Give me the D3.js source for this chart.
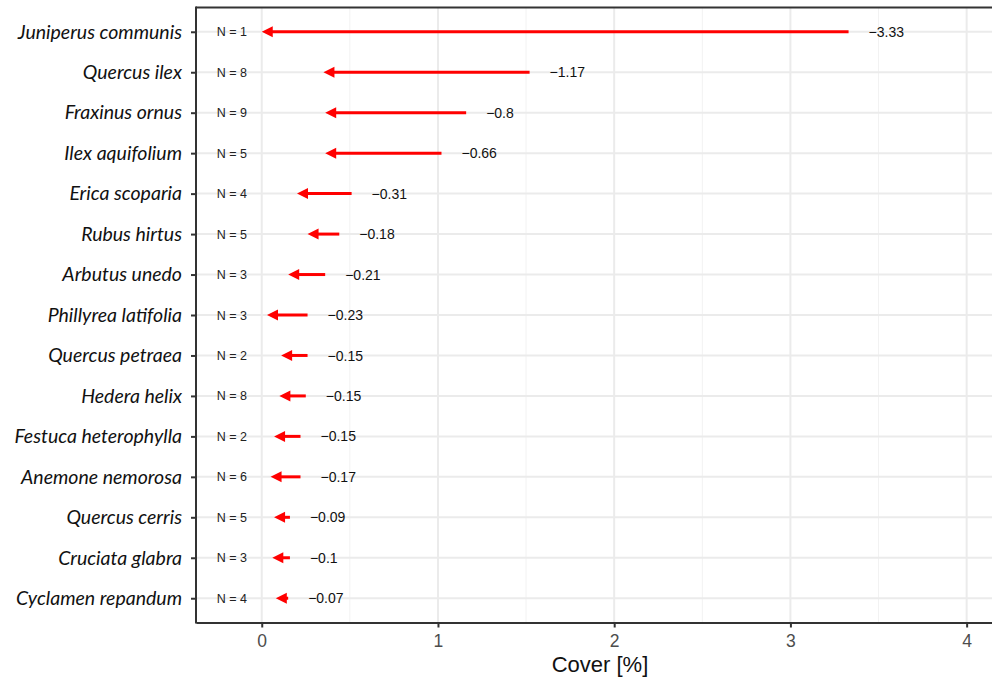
<!DOCTYPE html>
<html>
<head>
<meta charset="utf-8">
<script src="https://cdn.jsdelivr.net/npm/d3@7"></script>
<style>
  body { margin: 0; background: #fff; }
  svg { display: block; }
</style>
</head>
<body>
<svg></svg>
<script>
const width = 992, height = 681;

// Species, top to bottom
const species = ["Juniperus communis", "Quercus ilex", "Fraxinus ornus", "Ilex aquifolium",
  "Erica scoparia", "Rubus hirtus", "Arbutus unedo", "Phillyrea latifolia", "Quercus petraea",
  "Hedera helix", "Festuca heterophylla", "Anemone nemorosa", "Quercus cerris",
  "Cruciata glabra", "Cyclamen repandum"];
const sampleN = [1, 8, 9, 5, 4, 5, 3, 3, 2, 8, 2, 6, 5, 3, 4];
const coverBefore = [3.33, 1.52, 1.16, 1.02, 0.51, 0.44, 0.36, 0.26, 0.26, 0.25, 0.22, 0.22, 0.16, 0.16, 0.15];
const coverAfter  = [0.00, 0.35, 0.36, 0.36, 0.20, 0.26, 0.15, 0.03, 0.11, 0.10, 0.07, 0.05, 0.07, 0.06, 0.08];
const changeLabels = [-3.33, -1.17, -0.8, -0.66, -0.31, -0.18, -0.21, -0.23, -0.15, -0.15, -0.15, -0.17, -0.09, -0.1, -0.07];
const xTicks = [0, 1, 2, 3, 4];
const xMinor = [0.5, 1.5, 2.5, 3.5];

const data = species.map((s, i) => ({
  name: s, n: sampleN[i], from: coverBefore[i], to: coverAfter[i], change: changeLabels[i]
}));

const panel = { left: 196, right: 1004, top: 7.5, bottom: 622.5 };

const svg = d3.select("svg").attr("width", width).attr("height", height);

const x = d3.scaleLinear().domain([-0.373, 4.212]).range([panel.left, panel.right]);
const y = d3.scalePoint().domain(species).range([panel.top, panel.bottom]).padding(0.6);

const grid = svg.append("g");
// minor vertical grid
grid.selectAll("line.minor").data(xMinor).enter().append("line")
  .attr("x1", d => x(d)).attr("x2", d => x(d))
  .attr("y1", panel.top).attr("y2", panel.bottom)
  .attr("stroke", "#f2f2f2").attr("stroke-width", 1);
// major vertical grid
grid.selectAll("line.major").data(xTicks).enter().append("line")
  .attr("x1", d => x(d)).attr("x2", d => x(d))
  .attr("y1", panel.top).attr("y2", panel.bottom)
  .attr("stroke", "#ebebeb").attr("stroke-width", 2);
// horizontal grid at each species
grid.selectAll("line.row").data(species).enter().append("line")
  .attr("x1", panel.left).attr("x2", width)
  .attr("y1", d => y(d)).attr("y2", d => y(d))
  .attr("stroke", "#ebebeb").attr("stroke-width", 2);

// N labels
svg.append("g").selectAll("text").data(data).enter().append("text")
  .attr("x", x(-0.17)).attr("y", d => y(d.name)).attr("dy", "0.36em")
  .attr("text-anchor", "middle")
  .attr("font-family", "Liberation Sans, Arial, sans-serif")
  .attr("font-size", 12.5).attr("fill", "#222")
  .text(d => "N = " + d.n);

// arrows
const headLen = 11, headHalf = 5.5;
const arrows = svg.append("g");
arrows.selectAll("line").data(data).enter().append("line")
  .attr("x1", d => x(d.from)).attr("x2", d => x(d.to) + headLen - 1)
  .attr("y1", d => y(d.name)).attr("y2", d => y(d.name))
  .attr("stroke", "#ff0000").attr("stroke-width", 3);
arrows.selectAll("path").data(data).enter().append("path")
  .attr("d", d => {
    const tx = x(d.to), ty = y(d.name);
    return `M${tx},${ty}L${tx + headLen},${ty - headHalf}L${tx + headLen},${ty + headHalf}Z`;
  })
  .attr("fill", "#ff0000");

// change labels
svg.append("g").selectAll("text").data(data).enter().append("text")
  .attr("x", d => x(d.from) + 20).attr("y", d => y(d.name)).attr("dy", "0.36em")
  .attr("font-family", "Liberation Sans, Arial, sans-serif")
  .attr("font-size", 14).attr("fill", "#111")
  .text(d => String(d.change).replace("-", "\u2212"));

// panel border line on top
svg.append("line").attr("x1", panel.left).attr("x2", width)
  .attr("y1", panel.top).attr("y2", panel.top)
  .attr("stroke", "#333").attr("stroke-width", 2);

const xAxis = svg.append("g").attr("transform", `translate(0,${panel.bottom})`)
  .call(d3.axisBottom(x).tickValues(xTicks).tickFormat(d3.format("d")).tickSize(5).tickSizeOuter(0));
xAxis.select(".domain").attr("stroke", "#333").attr("stroke-width", 2);
xAxis.selectAll(".tick line").attr("stroke", "#333").attr("stroke-width", 2);
xAxis.selectAll(".tick text")
  .attr("font-family", "Liberation Sans, Arial, sans-serif")
  .attr("font-size", 17.5).attr("fill", "#4d4d4d").attr("dy", "0.95em");

const yAxis = svg.append("g").attr("transform", `translate(${panel.left},0)`)
  .call(d3.axisLeft(y).tickSize(5).tickSizeOuter(0).tickPadding(9));
yAxis.select(".domain").attr("stroke", "#333").attr("stroke-width", 2)
  .attr("d", `M0,${panel.top - 1}V${panel.bottom + 1}`);
yAxis.selectAll(".tick line").attr("stroke", "#333").attr("stroke-width", 2);
yAxis.selectAll(".tick text")
  .attr("font-family", "Lato, Open Sans, sans-serif")
  .attr("font-style", "italic")
  .attr("font-size", 19.5).attr("fill", "#111");

// axis title
svg.append("text")
  .attr("x", (panel.left + panel.right) / 2).attr("y", 672)
  .attr("text-anchor", "middle")
  .attr("font-family", "Liberation Sans, Arial, sans-serif")
  .attr("font-size", 22).attr("fill", "#111")
  .text("Cover [%]");
</script>
</body>
</html>
